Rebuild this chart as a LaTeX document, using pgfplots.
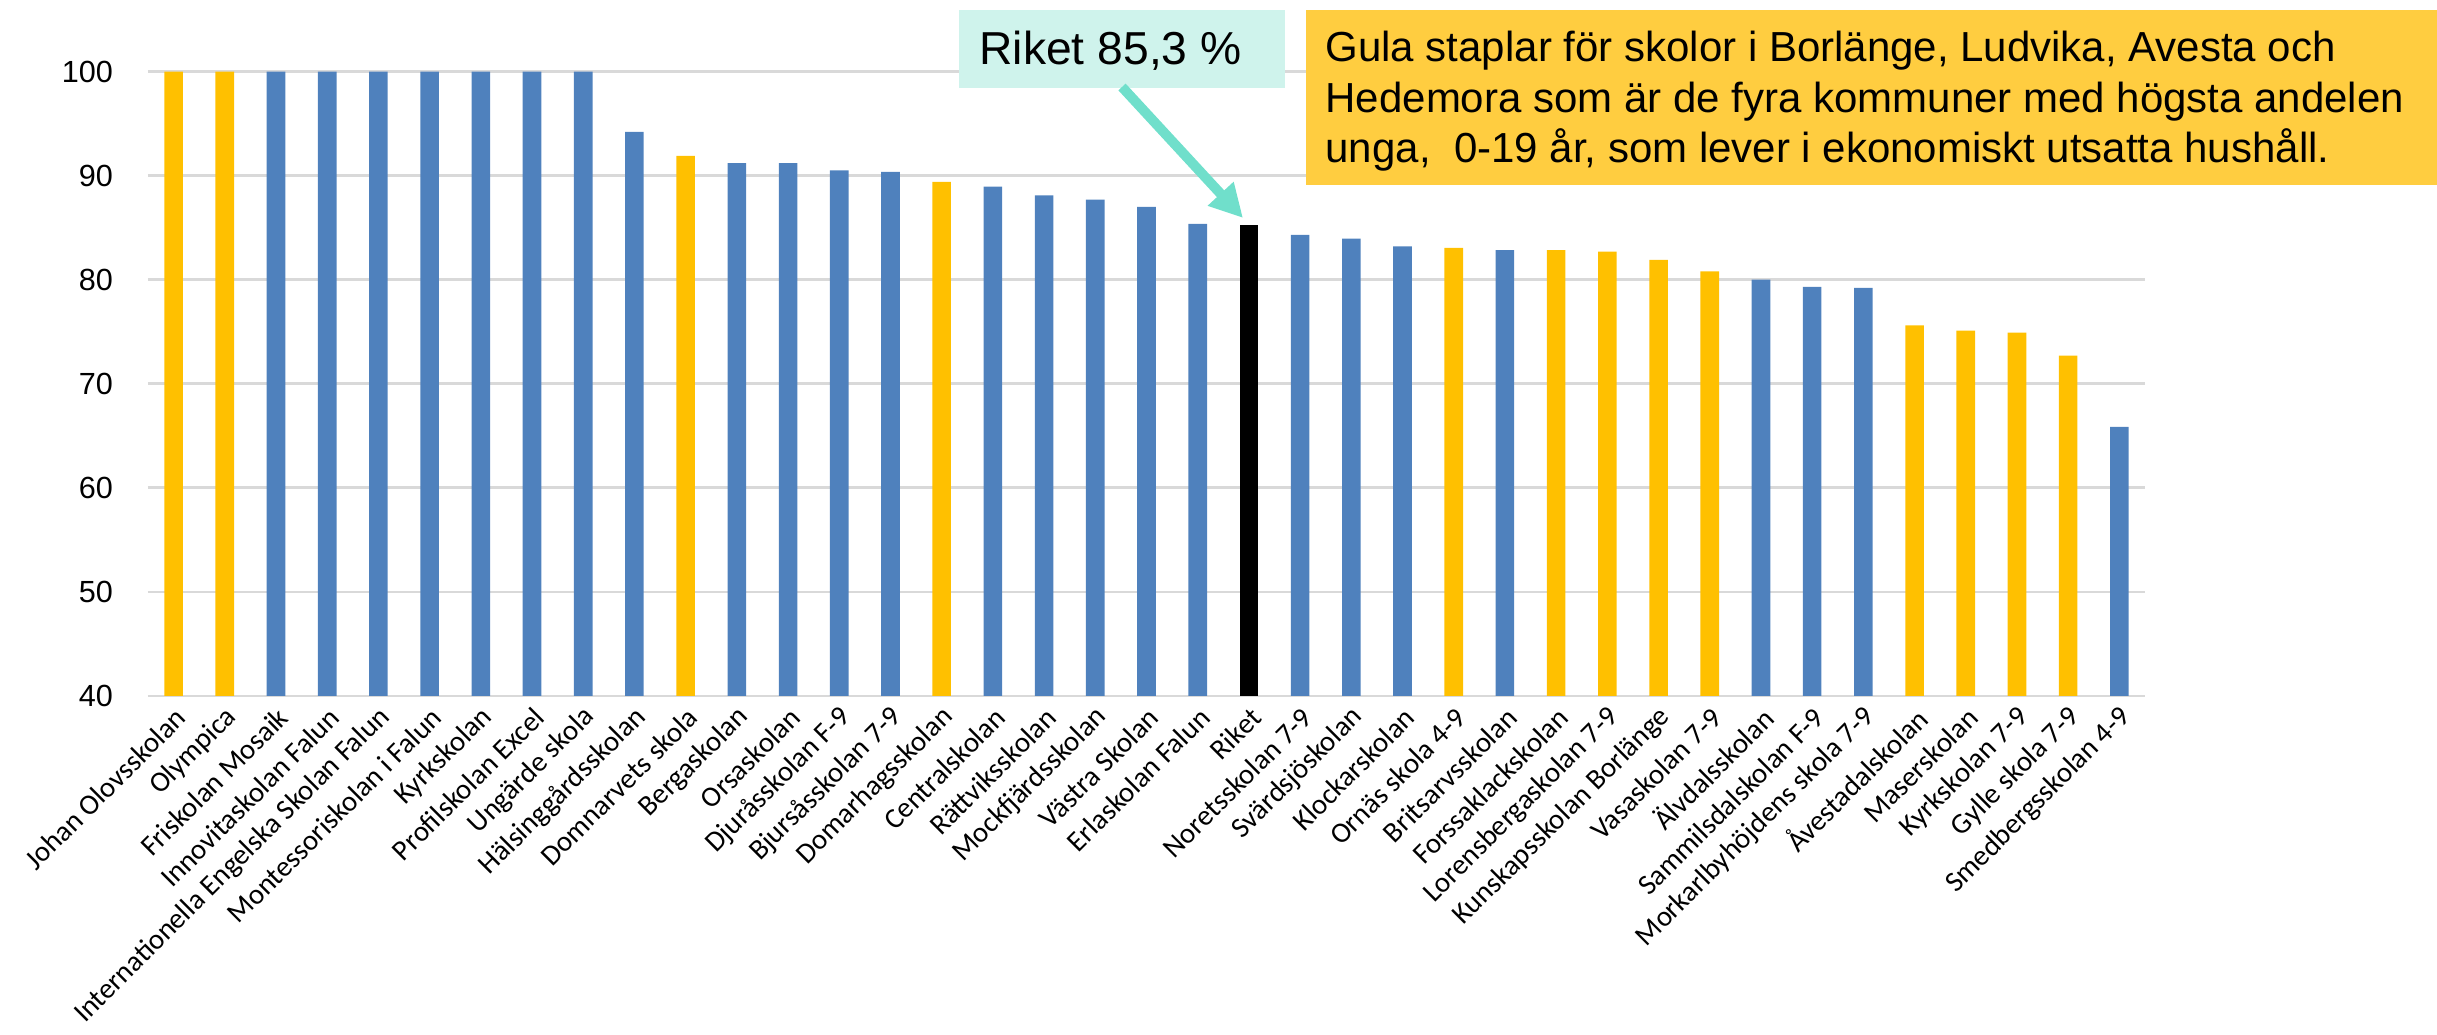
\documentclass[border=0pt]{standalone}
\usepackage{pgfplots}
\pgfplotsset{compat=1.18}
\usetikzlibrary{arrows.meta}
\usepackage{fontspec}
\setmainfont{Liberation Sans}
\newfontfamily\carlito{Carlito}
\definecolor{cblue}{HTML}{4F81BD}
\definecolor{cyellow}{HTML}{FFC000}
\definecolor{cgrid}{HTML}{D9D9D9}
\definecolor{boxyellow}{HTML}{FFCD40}
\definecolor{boxmint}{HTML}{CFF3EC}
\definecolor{arrowmint}{HTML}{70DFCB}
\begin{document}
\begin{tikzpicture}[x=1pt,y=1pt]
\useasboundingbox (0,0) rectangle (812.33,345);
\begin{axis}[
  at={(49.33pt,113pt)}, anchor=south west,
  scale only axis, width=665.67pt, height=208.17pt,
  xmin=-0.5, xmax=38.5, ymin=40, ymax=100,
  ybar, bar width=6.2pt,
  axis x line*=bottom, axis y line*=left,
  x axis line style={cgrid, line width=0.9pt, -},
  y axis line style={draw=none},
  ytick={40,50,...,100},
  ymajorgrids, grid style={cgrid, line width=0.9pt},
  major tick length=0pt,
  xtick={0,...,38},
  xticklabels={Johan Olovsskolan, Olympica, Friskolan Mosaik, Innovitaskolan Falun, Internationella Engelska Skolan Falun, Montessoriskolan i Falun, Kyrkskolan, Profilskolan Excel, Ungärde skola, Hälsinggårdsskolan, Domnarvets skola, Bergaskolan, Orsaskolan, Djuråsskolan F-9, Bjursåsskolan 7-9, Domarhagsskolan, Centralskolan, Rättviksskolan, Mockfjärdsskolan, Västra Skolan, Erlaskolan Falun, Riket, Noretsskolan 7-9, Svärdsjöskolan, Klockarskolan, Ornäs skola 4-9, Britsarvsskolan, Forssaklackskolan, Lorensbergaskolan 7-9, Kunskapsskolan Borlänge, Vasaskolan 7-9, Älvdalsskolan, Sammilsdalskolan F-9, Morkarlbyhöjdens skola 7-9, Åvestadalskolan, Maserskolan, Kyrkskolan 7-9, Gylle skola 7-9, Smedbergsskolan 4-9},
  xticklabel shift=5.5pt,
  xticklabel style={xshift=2.5pt, rotate=45, anchor=east, inner sep=0pt, font=\carlito\fontsize{9.6}{11}\selectfont},
  yticklabel style={font=\fontsize{10.2}{12}\selectfont, inner sep=0pt},
  yticklabel shift=11.5pt,
  /pgf/number format/assume math mode=true,
  clip=false,
]
\addplot[draw=none, fill=cblue, bar shift=0pt] coordinates {
(2,100) (3,100) (4,100) (5,100) (6,100) (7,100) (8,100) (9,94.2)
(11,91.2) (12,91.2) (13,90.5) (14,90.35) (16,88.95) (17,88.1) (18,87.7) (19,87.0) (20,85.35)
(22,84.3) (23,83.95) (24,83.2) (26,82.85) (31,80.0) (32,79.3) (33,79.2) (38,65.85)
};
\addplot[draw=none, fill=cyellow, bar shift=0pt] coordinates {
(0,100) (1,100) (10,91.9) (15,89.4) (25,83.05) (27,82.85) (28,82.7) (29,81.9) (30,80.8)
(34,75.6) (35,75.1) (36,74.9) (37,72.7)
};
\addplot[draw=none, fill=black, bar shift=0pt] coordinates {(21,85.3)};
\end{axis}
% yellow annotation box
\fill[boxyellow] (435.33,283.33) rectangle (812.33,341.67);
\node[anchor=base west, inner sep=0pt, font=\fontsize{14}{17}\selectfont] at (441.67,324.33) {Gula staplar för skolor i Borlänge, Ludvika, Avesta och};
\node[anchor=base west, inner sep=0pt, font=\fontsize{14}{17}\selectfont] at (441.67,307.33) {Hedemora som är de fyra kommuner med högsta andelen};
\node[anchor=base west, inner sep=0pt, font=\fontsize{14}{17}\selectfont] at (441.67,290.67) {unga,\ \ 0-19 år, som lever i ekonomiskt utsatta hushåll.};
% Riket box
\fill[boxmint] (319.67,315.67) rectangle (428.33,341.67);
\node[anchor=base west, inner sep=0pt, font=\fontsize{15.4}{18}\selectfont] at (326.33,323.33) {Riket 85,3 \%};
\draw[arrowmint, line width=3.3pt, -{Triangle[length=11pt,width=11pt]}] (374,316) -- (414.33,272.33);
\end{tikzpicture}
\end{document}
